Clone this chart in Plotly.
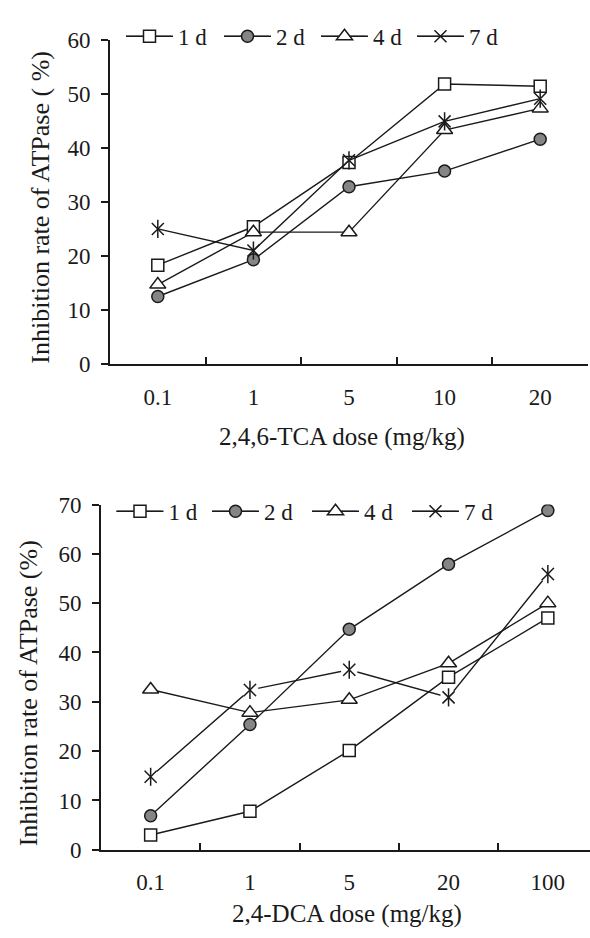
import plotly.graph_objects as go

# ---- data ----
tca_doses = ["0.1", "1", "5", "10", "20"]
tca_1d = [18.3, 25.4, 37.3, 51.8, 51.4]
tca_2d = [12.5, 19.3, 32.8, 35.7, 41.6]
tca_4d = [14.7, 24.4, 24.4, 43.3, 47.3]
tca_7d = [25.0, 21.0, 37.7, 44.9, 49.1]

dca_doses = ["0.1", "1", "5", "20", "100"]
dca_1d = [3.0, 7.8, 20.1, 35.0, 47.0]
dca_2d = [6.9, 25.4, 44.7, 57.9, 68.8]
dca_4d = [32.5, 27.8, 30.4, 37.8, 50.0]
dca_7d = [14.8, 32.4, 36.5, 30.9, 55.9]

series_names = ["1 d", "2 d", "4 d", "7 d"]

INK = "#1a1a1a"
GRAY = "#858585"
FONT = "Liberation Serif"
W, H = 590, 938


def py(p):
    return 1 - p / H


def px(p):
    return p / W


fig = go.Figure()

STYLES = [
    dict(symbol="square", size=12, color="white"),
    dict(symbol="circle", size=12, color=GRAY),
    dict(symbol="triangle-up", size=14, color="white"),
    dict(symbol="x-thin-open", size=12, color=INK),
]


def add_panel(xs, ys_list, xa, ya, legends, halo):
    for name, ys, st, lg in zip(series_names, ys_list, STYLES, legends):
        fig.add_trace(go.Scatter(
            x=xs, y=ys, name=name, mode="lines+markers",
            xaxis=xa, yaxis=ya, legend=lg,
            line=dict(color=INK, width=1.4),
            marker=dict(symbol=st["symbol"], size=st["size"], color=st["color"],
                        line=dict(color=INK, width=1.5)),
        ))
    star = ys_list[3]
    if halo:
        fig.add_trace(go.Scatter(
            x=xs, y=star, mode="markers", showlegend=False, hoverinfo="skip",
            xaxis=xa, yaxis=ya,
            marker=dict(symbol="circle", size=17, color="white", line=dict(width=0)),
        ))
        fig.add_trace(go.Scatter(
            x=xs, y=star, mode="markers", showlegend=False, hoverinfo="skip",
            xaxis=xa, yaxis=ya,
            marker=dict(symbol="x-thin-open", size=12, color=INK,
                        line=dict(color=INK, width=1.5)),
        ))
    # vertical stroke completing the asterisk markers of the 7 d series
    fig.add_trace(go.Scatter(
        x=xs, y=star, mode="markers", showlegend=False, hoverinfo="skip",
        xaxis=xa, yaxis=ya,
        marker=dict(symbol="line-ns-open", size=13, color=INK,
                    line=dict(color=INK, width=1.5)),
    ))


top_legends = ["legend", "legend2", "legend3", "legend4"]
bot_legends = ["legend5", "legend6", "legend7", "legend8"]
add_panel(tca_doses, [tca_1d, tca_2d, tca_4d, tca_7d], "x", "y", top_legends, False)
add_panel(dca_doses, [dca_1d, dca_2d, dca_4d, dca_7d], "x2", "y2", bot_legends, True)

xcommon = dict(type="category", tickson="boundaries", ticks="inside", ticklen=7,
               tickwidth=1.5, tickcolor=INK, showline=True, linecolor=INK,
               linewidth=1.8, showgrid=False, zeroline=False,
               tickfont=dict(family=FONT, size=23, color=INK),
               ticklabelstandoff=11, fixedrange=True)
ycommon = dict(ticks="outside", ticklen=7, tickwidth=1.5, tickcolor=INK,
               showline=True, linecolor=INK, linewidth=1.8, showgrid=False,
               zeroline=False, tickfont=dict(family=FONT, size=23, color=INK),
               ticklabelstandoff=6, fixedrange=True)

legcommon = dict(orientation="h", xanchor="left", yanchor="middle",
                 font=dict(family=FONT, size=23, color=INK), itemwidth=47,
                 bgcolor="rgba(0,0,0,0)", borderwidth=0,
                 itemclick=False, itemdoubleclick=False)

# legend item positions (left edge of the symbol line, px) and row heights
top_leg_x = [126, 224, 321, 417]
bot_leg_x = [116.5, 212, 312, 412]
top_leg_y = 25
bot_leg_y = 513
LEG_LINE = 45

legend_layout = {}
shapes = []
for names, xs_px, y_px in ((top_legends, top_leg_x, top_leg_y),
                           (bot_legends, bot_leg_x, bot_leg_y)):
    for lg, lx in zip(names, xs_px):
        legend_layout[lg] = dict(x=px(lx - 5), y=py(y_px), **legcommon)
        # extend the legend symbol line to the length used in the original
        shapes.append(dict(type="line", xref="paper", yref="paper", layer="above",
                           x0=px(lx), x1=px(lx + LEG_LINE), y0=py(y_px), y1=py(y_px),
                           line=dict(color=INK, width=1.4)))

fig.update_layout(
    width=W, height=H,
    margin=dict(l=0, r=0, t=0, b=0),
    paper_bgcolor="white", plot_bgcolor="white",
    xaxis=dict(domain=[px(110), px(588)], anchor="y", range=[-0.5, 4.5], **xcommon),
    yaxis=dict(domain=[py(361.7), py(28.5)], anchor="x", range=[0, 60],
               tickvals=[0, 10, 20, 30, 40, 50, 60], **ycommon),
    xaxis2=dict(domain=[px(101), 1.0], anchor="y2", range=[-0.5, -0.5 + 489 / 99.3], **xcommon),
    yaxis2=dict(domain=[py(860.7), py(506)], anchor="x2", range=[0, 70],
                tickvals=[0, 10, 20, 30, 40, 50, 60, 70], **ycommon),
    showlegend=True,
    shapes=shapes,
    annotations=[
        dict(text="2,4,6-TCA dose (mg/kg)", x=px(342), y=py(437), xref="paper", yref="paper",
             showarrow=False, xanchor="center", yanchor="middle",
             font=dict(family=FONT, size=25, color=INK)),
        dict(text="2,4-DCA dose (mg/kg)", x=px(347), y=py(927), xref="paper", yref="paper",
             showarrow=False, xanchor="center", yanchor="middle",
             font=dict(family=FONT, size=25, color=INK)),
        dict(text="Inhibition rate of ATPase ( %)", x=px(41), y=py(201), xref="paper", yref="paper",
             showarrow=False, xanchor="center", yanchor="middle", textangle=-90,
             font=dict(family=FONT, size=26, color=INK)),
        dict(text="Inhibition rate of ATPase (%)", x=px(28), y=py(700), xref="paper", yref="paper",
             showarrow=False, xanchor="center", yanchor="middle", textangle=-90,
             font=dict(family=FONT, size=26, color=INK)),
    ],
    **legend_layout,
)

fig.write_html(
    "out.html",
    config={"displayModeBar": False},
    post_script="document.body.style.margin='0';document.body.style.overflow='hidden';",
)
